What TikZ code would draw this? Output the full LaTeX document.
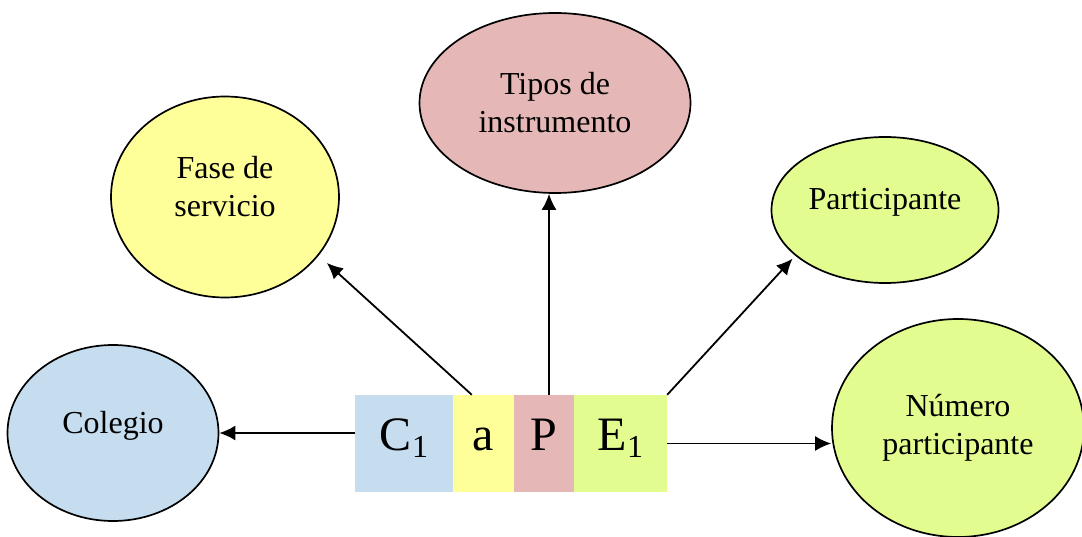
\documentclass[tikz,border=0pt]{standalone}
\usepackage{fontspec}
\setmainfont{Liberation Serif}
\usetikzlibrary{shapes.geometric,arrows.meta,calc}
\definecolor{cblue}{HTML}{C5DDEE}
\definecolor{cyellow}{HTML}{FFFF99}
\definecolor{cpink}{HTML}{E5B8B7}
\definecolor{cgreen}{HTML}{E2FC90}
\newcommand{\subone}{{\fontsize{32}{32}\selectfont\raisebox{-7pt}{1}}}
\begin{document}
\begin{tikzpicture}[x=1pt,y=-1pt,
  ell/.style={ellipse,draw=black,line width=1.7pt,inner sep=0pt,font=\fontsize{32}{38}\selectfont},
  one/.style={text height=22pt,text depth=22pt},
  two/.style={align=center},
  cell/.style={rectangle,inner sep=0pt,minimum height=97pt,text height=30pt,text depth=17pt,font=\fontsize{48}{48}\selectfont},
  arr/.style={line width=1.8pt,-{Latex[length=16pt,width=15pt]}}]
\useasboundingbox (0,0) rectangle (1082,537);
% ellipses
\node[ell,one,fill=cblue,minimum width=211pt,minimum height=176pt] (col) at (113,433) {Colegio};
\node[ell,two,fill=cyellow,text height=60pt,text depth=20pt,minimum width=228pt,minimum height=201pt] (fase) at (225,197) {Fase de\\servicio};
\node[ell,two,fill=cpink,minimum width=271pt,minimum height=180pt] (tip) at (555,103) {Tipos de\\instrumento};
\node[ell,one,fill=cgreen,minimum width=227pt,minimum height=146pt] (par) at (885,210) {Participante};
\node[ell,two,fill=cgreen,minimum width=252pt,minimum height=218pt] (num) at (958,428) {Número\\participante};
% code boxes
\node[cell,fill=cblue,minimum width=98pt] (C) at (404,443.5) {C\subone};
\node[cell,fill=cyellow,minimum width=61pt] (a) at (483.5,443.5) {a};
\node[cell,fill=cpink,minimum width=60pt] (P) at (544,443.5) {P};
\node[cell,fill=cgreen,minimum width=93pt] (E) at (620.5,443.5) {E\subone};
% connectors
\coordinate (as) at ($(a.north west)+(19,0)$);
\coordinate (ps) at ($(P.north)+(5,0)$);
\draw[arr] (C.west |- col.center) -- (col.east);
\draw[arr,shorten >=11pt] (as) -- (fase.-32.5);
\draw[arr] (ps) -- (ps |- tip.south);
\draw[arr,shorten >=4pt] (E.north east) -- (par.207.5);
\draw[arr] (E.east) -- (num.west |- E.east);
\end{tikzpicture}
\end{document}
